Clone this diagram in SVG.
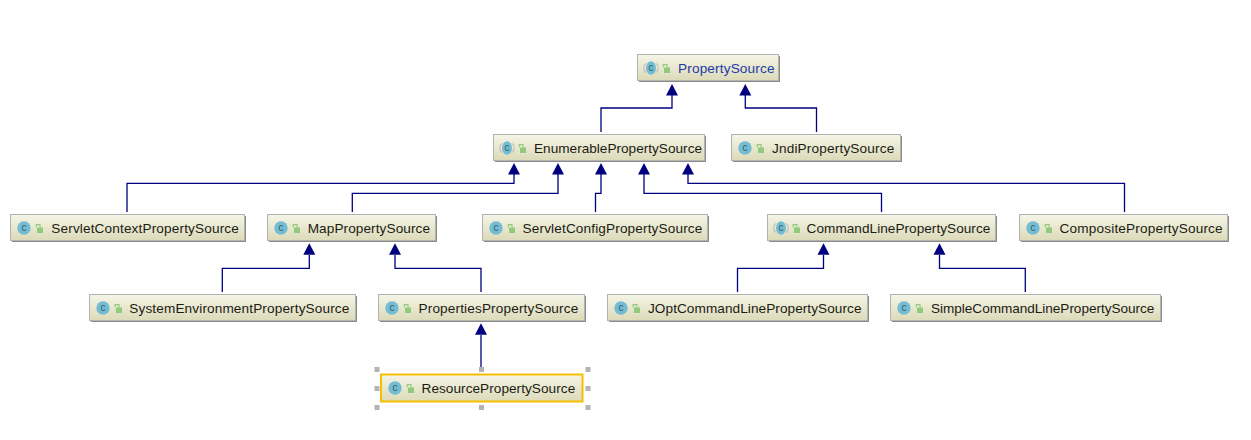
<svg xmlns="http://www.w3.org/2000/svg" width="1251" height="440" viewBox="0 0 1251 440">
<style>
.box{fill:url(#g);stroke:#b2b2b2;stroke-width:1}
.shadow{fill:#8c8c86}
.ic{fill:#72bdd3}
.arc{fill:none;stroke:#bdbdbd;stroke-width:1.2}
.c{font:10px "Liberation Sans",sans-serif;fill:#3f5a66;text-anchor:middle}
.lock{fill:#93c97a}
.sh{fill:none;stroke:#93c97a;stroke-width:1.1}
.t{font:13.6px "Liberation Sans",Arial,sans-serif;fill:#1c1c14}
.e{fill:none;stroke:#00007f;stroke-width:1.3}
.h{fill:#00007f}
.sel{fill:#b4b4b4}
</style>
<defs>
<linearGradient id="g" x1="0" y1="0" x2="0" y2="1"><stop offset="0" stop-color="#f5f5e8"/><stop offset="1" stop-color="#dcdab8"/></linearGradient>
<symbol id="icon" width="36" height="16" viewBox="0 0 36 16" overflow="visible">
<circle class="ic" cx="7" cy="8" r="6.7"/><text class="c" x="7" y="11.4">c</text>
<path class="lock" d="M20 7.500h6v5.500h-6z"/><path class="sh" d="M19.200 7.500V4.600h3.800v3"/>
</symbol>
<symbol id="iconA" width="36" height="16" viewBox="0 0 36 16" overflow="visible">
<ellipse class="ic" cx="7" cy="8" rx="5" ry="6.7"/><path class="arc" d="M1.500 3.500a7 7 0 0 0 0 9M12.500 3.500a7 7 0 0 1 0 9"/><text class="c" x="7" y="11.4">c</text>
<path class="lock" d="M20 7.500h6v5.500h-6z"/><path class="sh" d="M19.200 7.500V4.600h3.800v3"/>
</symbol>
<path id="ah" class="h" d="M0 0l6 11.500h-12z"/>
</defs>
<g id="connectors">
<path class="e" d="M601 132V108H672V95M816.500 132V108H745.300V95M127 212V183.300H514V174M352.300 212V193.300H558V174M595.500 212V193.300H601V174M881.500 212V193.300H644V174M1124.500 212V183.300H688V174M222.300 292V268.300H309.300V255M481 292V268.300H395V255M737.500 292V268.300H823.500V255M1025.300 292V268.300H939.500V255M481 372V335"/>
<use href="#ah" x="672" y="84"/><use href="#ah" x="745.300" y="84"/>
<use href="#ah" x="514" y="163"/><use href="#ah" x="558" y="163"/><use href="#ah" x="601" y="163"/><use href="#ah" x="644" y="163"/><use href="#ah" x="688" y="163"/>
<use href="#ah" x="309.300" y="243.300"/><use href="#ah" x="395" y="243.300"/><use href="#ah" x="823.500" y="243.300"/><use href="#ah" x="939.500" y="243.300"/>
<use href="#ah" x="481" y="323.300"/>
</g>
<g id="PropertySource"><rect class="shadow" x="639" y="56" width="141" height="26"/><rect class="box" x="637.500" y="54.500" width="141" height="26"/><use href="#iconA" x="644" y="60"/><text class="t" x="678" y="73" textLength="96.500" style="fill:#1e3aa8">PropertySource</text></g>
<g id="EnumerablePropertySource"><rect class="shadow" x="495" y="136" width="211" height="26"/><rect class="box" x="493.500" y="134.500" width="211" height="26"/><use href="#iconA" x="500" y="140"/><text class="t" x="534" y="153" textLength="168">EnumerablePropertySource</text></g>
<g id="JndiPropertySource"><rect class="shadow" x="733" y="136" width="169" height="26"/><rect class="box" x="731.500" y="134.500" width="169" height="26"/><use href="#icon" x="738" y="140"/><text class="t" x="772" y="153" textLength="122.300">JndiPropertySource</text></g>
<g id="ServletContextPropertySource"><rect class="shadow" x="12" y="216" width="234" height="26"/><rect class="box" x="10.500" y="214.500" width="234" height="26"/><use href="#icon" x="17" y="220"/><text class="t" x="51.300" y="233" textLength="187.500">ServletContextPropertySource</text></g>
<g id="MapPropertySource"><rect class="shadow" x="269" y="216" width="168" height="26"/><rect class="box" x="267.500" y="214.500" width="168" height="26"/><use href="#icon" x="274" y="220"/><text class="t" x="307.700" y="233" textLength="122.300">MapPropertySource</text></g>
<g id="ServletConfigPropertySource"><rect class="shadow" x="484" y="216" width="225" height="26"/><rect class="box" x="482.500" y="214.500" width="225" height="26"/><use href="#icon" x="489" y="220"/><text class="t" x="522.600" y="233" textLength="179.700">ServletConfigPropertySource</text></g>
<g id="CommandLinePropertySource"><rect class="shadow" x="769" y="216" width="228" height="26"/><rect class="box" x="767.500" y="214.500" width="228" height="26"/><use href="#iconA" x="774" y="220"/><text class="t" x="806.600" y="233" textLength="183.700">CommandLinePropertySource</text></g>
<g id="CompositePropertySource"><rect class="shadow" x="1021" y="216" width="208" height="26"/><rect class="box" x="1019.500" y="214.500" width="208" height="26"/><use href="#icon" x="1026" y="220"/><text class="t" x="1059.600" y="233" textLength="163">CompositePropertySource</text></g>
<g id="SystemEnvironmentPropertySource"><rect class="shadow" x="91" y="296" width="266" height="26"/><rect class="box" x="89.500" y="294.500" width="266" height="26"/><use href="#icon" x="96" y="300"/><text class="t" x="129.300" y="313" textLength="220">SystemEnvironmentPropertySource</text></g>
<g id="PropertiesPropertySource"><rect class="shadow" x="380" y="296" width="206" height="26"/><rect class="box" x="378.500" y="294.500" width="206" height="26"/><use href="#icon" x="385" y="300"/><text class="t" x="418.500" y="313" textLength="159.700">PropertiesPropertySource</text></g>
<g id="JOptCommandLinePropertySource"><rect class="shadow" x="609" y="296" width="260" height="26"/><rect class="box" x="607.500" y="294.500" width="260" height="26"/><use href="#icon" x="614" y="300"/><text class="t" x="648" y="313" textLength="213.500">JOptCommandLinePropertySource</text></g>
<g id="SimpleCommandLinePropertySource"><rect class="shadow" x="892" y="296" width="270" height="26"/><rect class="box" x="890.500" y="294.500" width="270" height="26"/><use href="#icon" x="897" y="300"/><text class="t" x="931" y="313" textLength="223.300">SimpleCommandLinePropertySource</text></g>
<g id="ResourcePropertySource"><rect class="box" x="381" y="374.500" width="201.500" height="27" style="stroke:#f5c000;stroke-width:2"/><use href="#icon" x="388" y="380"/><text class="t" x="421.500" y="393" textLength="153.700">ResourcePropertySource</text>
<path class="sel" d="M374.500 367h5v5h-5zM479 367h5v5h-5zM585.500 367h5v5h-5zM374.500 386h5v5h-5zM585.500 386h5v5h-5zM374.500 405h5v5h-5zM479 405h5v5h-5zM585.500 405h5v5h-5z"/></g>
</svg>
